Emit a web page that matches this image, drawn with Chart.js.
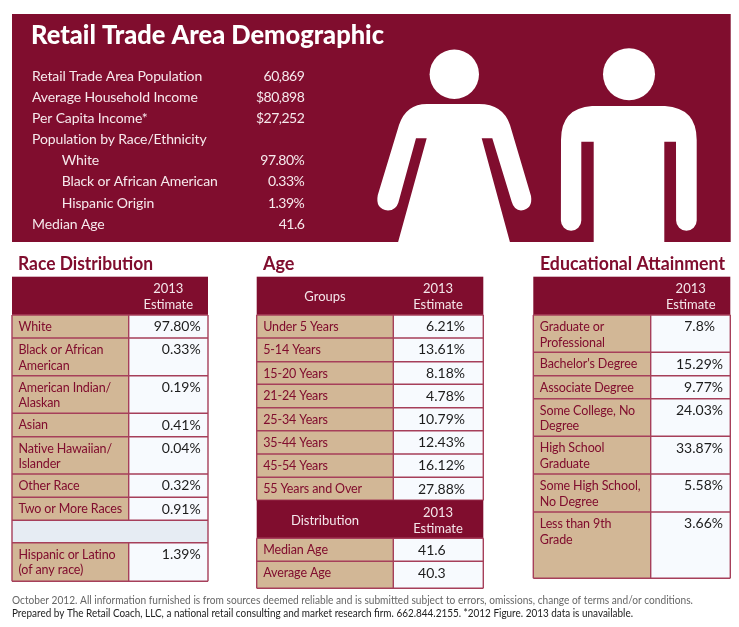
<!DOCTYPE html>
<html>
<head>
<meta charset="utf-8">
<title>Retail Trade Area Demographic</title>
<script src="https://cdn.jsdelivr.net/npm/chart.js@4"></script>
<style>
  html, body { margin: 0; padding: 0; background: #fff; }
  #sheet { position: absolute; left: 0; top: 0; }
</style>
</head>
<body>
<canvas id="sheet" width="739" height="627"></canvas>
<script>
const summaryLabels = ["Retail Trade Area Population", "Average Household Income", "Per Capita Income*", "Population by Race/Ethnicity", "White", "Black or African American", "Hispanic Origin", "Median Age"];
const summaryValues = ["60,869", "$80,898", "$27,252", "", "97.80%", "0.33%", "1.39%", "41.6"];
const raceLabels = ["White", "Black or African\nAmerican", "American Indian/\nAlaskan", "Asian", "Native Hawaiian/\nIslander", "Other Race", "Two or More Races", "", "Hispanic or Latino\n(of any race)"];
const raceValues = ["97.80%", "0.33%", "0.19%", "0.41%", "0.04%", "0.32%", "0.91%", "", "1.39%"];
const ageLabels = ["Under 5 Years", "5-14 Years", "15-20 Years", "21-24 Years", "25-34 Years", "35-44 Years", "45-54 Years", "55 Years and Over"];
const ageValues = ["6.21%", "13.61%", "8.18%", "4.78%", "10.79%", "12.43%", "16.12%", "27.88%"];
const distLabels = ["Median Age", "Average Age"];
const distValues = ["41.6", "40.3"];
const eduLabels = ["Graduate or\nProfessional", "Bachelor's Degree", "Associate Degree", "Some College, No\nDegree", "High School\nGraduate", "Some High School,\nNo Degree", "Less than 9th\nGrade"];
const eduValues = ["7.8%", "15.29%", "9.77%", "24.03%", "33.87%", "5.58%", "3.66%"];

// layout, in page pixels
const MAROON = "#800d2e";
const TAN = "#d2b796";
const FONT = "Lato, 'Open Sans', sans-serif";
const raceEdges = [315, 338, 375.7, 413.3, 436.7, 474, 497.3, 520.3, 542.7, 581.3];
const ageEdges = [315, 338, 361.7, 384.3, 407.7, 430.7, 454, 477.3, 500.3];
const distEdges = [538.3, 561.3, 588.3];
const eduEdges = [315, 352.3, 375.7, 398.7, 436.3, 474, 512, 578.3];

const sheetPlugin = {
  id: "sheet",
  afterDraw(chart) {
    const ctx = chart.ctx;
    const px = (v) => chart.scales.x.getPixelForValue(v);
    const py = (v) => chart.scales.y.getPixelForValue(v);

    const rect = (x0, y0, x1, y1, color) => {
      ctx.fillStyle = color;
      ctx.fillRect(px(x0), py(y0), px(x1) - px(x0), py(y1) - py(y0));
    };
    const text = (str, x, y, font, color, align, fit, spacing) => {
      ctx.font = font;
      ctx.fillStyle = color;
      ctx.textAlign = align || "left";
      ctx.textBaseline = "alphabetic";
      ctx.letterSpacing = (spacing || 0) + "px";
      if (fit) ctx.fillText(str, px(x), py(y), fit);
      else ctx.fillText(str, px(x), py(y));
      ctx.letterSpacing = "0px";
    };

    const header = (x0, x1, y0, y1, centre, left) => {
      rect(x0, y0, x1, y1, MAROON);
      text("2013", centre, y0 + 16.6, "13px " + FONT, "#f4e6ea", "center");
      text("Estimate", centre, y0 + 32.3, "13px " + FONT, "#f4e6ea", "center");
      if (left) text(left.str, left.x, y0 + 24.3, "13px " + FONT, "#f4e6ea", "center");
    };

    const rows = (x0, split, x1, edges, labels, values, right, rightOf) => {
      labels.forEach((label, i) => {
        const top = edges[i], bottom = edges[i + 1];
        if (label === "") {
          rect(x0, top, x1, bottom, "#e6ecf3");
        } else {
          rect(x0, top, split, bottom, TAN);
          rect(split, top, x1, bottom, "#f7fafe");
          label.split("\n").forEach((line, n) => {
            text(line, x0 + 6.5, top + 16 + n * 15.7, "12.5px " + FONT, MAROON, "left", 0, -0.12);
          });
          const r = rightOf && rightOf[values[i]] ? rightOf[values[i]] : right;
          text(values[i], r, top + 16.4, "14px " + FONT, "#1c1c1c", "right");
        }
      });
      // grid lines
      ctx.strokeStyle = "#a63f5a";
      ctx.lineWidth = 1.4;
      ctx.beginPath();
      edges.forEach((e) => {
        ctx.moveTo(px(x0), py(e));
        ctx.lineTo(px(x1), py(e));
      });
      labels.forEach((label, i) => {
        if (label === "") return;
        ctx.moveTo(px(split), py(edges[i]));
        ctx.lineTo(px(split), py(edges[i + 1]));
      });
      ctx.moveTo(px(x0), py(edges[0]));
      ctx.lineTo(px(x0), py(edges[edges.length - 1]));
      ctx.moveTo(px(x1), py(edges[0]));
      ctx.lineTo(px(x1), py(edges[edges.length - 1]));
      ctx.stroke();
    };

    // banner
    rect(12, 14, 730.7, 242, MAROON);
    text("Retail Trade Area Demographic", 31, 44, "900 26px " + FONT, "#ffffff", "left", 353);
    const summaryBase = [80.7, 101.7, 123, 144, 165, 186, 207.7, 228.7];
    summaryLabels.forEach((label, i) => {
      const indented = i >= 4 && i <= 6;
      text(label, indented ? 61.7 : 32, summaryBase[i], "14px " + FONT, "#f6e9ec", "left", 0, -0.12);
      if (summaryValues[i]) text(summaryValues[i], 304.3, summaryBase[i], "14px " + FONT, "#f6e9ec", "right", 0, -0.5);
    });

    // figures
    ctx.fillStyle = "#ffffff";
    ctx.beginPath();
    ctx.arc(px(454.3), py(74.3), 24.7, 0, Math.PI * 2);
    ctx.fill();
    ctx.beginPath();
    ctx.arc(px(629), py(74.3), 26, 0, Math.PI * 2);
    ctx.fill();

    // woman
    ctx.beginPath();
    ctx.moveTo(px(427), py(104));
    ctx.lineTo(px(479), py(104));
    ctx.quadraticCurveTo(px(503), py(104), px(510), py(125));
    ctx.lineTo(px(531), py(196));
    ctx.quadraticCurveTo(px(533), py(209), px(521), py(210.5));
    ctx.quadraticCurveTo(px(514), py(210), px(511.7), py(201.7));
    ctx.lineTo(px(492.3), py(138.3));
    ctx.lineTo(px(481.7), py(138.3));
    ctx.lineTo(px(511), py(246));
    ctx.lineTo(px(397), py(246));
    ctx.lineTo(px(426.7), py(138.3));
    ctx.lineTo(px(416), py(138.3));
    ctx.lineTo(px(398.3), py(202.7));
    ctx.quadraticCurveTo(px(396), py(210), px(388), py(210.5));
    ctx.quadraticCurveTo(px(375), py(209), px(377.8), py(195));
    ctx.lineTo(px(399), py(125));
    ctx.quadraticCurveTo(px(406), py(104), px(427), py(104));
    ctx.closePath();
    ctx.fill();

    // man
    ctx.beginPath();
    ctx.moveTo(px(592), py(106));
    ctx.lineTo(px(665), py(106));
    ctx.quadraticCurveTo(px(696.7), py(108), px(696.7), py(140));
    ctx.lineTo(px(696.7), py(220.5));
    ctx.arc(px(686.4), py(220.5), 10.3, 0, Math.PI);
    ctx.lineTo(px(676), py(141.7));
    ctx.lineTo(px(664.3), py(141.7));
    ctx.lineTo(px(664.3), py(246));
    ctx.lineTo(px(593.7), py(246));
    ctx.lineTo(px(593.7), py(141.7));
    ctx.lineTo(px(581.3), py(141.7));
    ctx.lineTo(px(581.3), py(220.5));
    ctx.arc(px(571.1), py(220.5), 10.2, 0, Math.PI);
    ctx.lineTo(px(561), py(140));
    ctx.quadraticCurveTo(px(561), py(108), px(592), py(106));
    ctx.closePath();
    ctx.fill();

    // section titles
    text("Race Distribution", 18, 270, "bold 18px " + FONT, MAROON, "left", 135);
    text("Age", 263, 270, "bold 18px " + FONT, MAROON);
    text("Educational Attainment", 540, 270, "bold 18px " + FONT, MAROON, "left", 185);

    // tables
    header(12, 208, 276.7, 315, 168.3);
    rows(12, 128.7, 208, raceEdges, raceLabels, raceValues, 200.7);

    header(256.7, 483.3, 276.7, 315, 438, { str: "Groups", x: 325 });
    rows(256.7, 393.3, 483.3, ageEdges, ageLabels, ageValues, 465);
    header(256.7, 483.3, 500.3, 538.3, 438, { str: "Distribution", x: 325 });
    rows(256.7, 393.3, 483.3, distEdges, distLabels, distValues, 445.7);

    header(533.3, 730.3, 276.7, 315, 690.7);
    rows(533.3, 650.7, 730.3, eduEdges, eduLabels, eduValues, 723, { "7.8%": 715 });

    // footnote
    text("October 2012. All information furnished is from sources deemed reliable and is submitted subject to errors, omissions, change of terms and/or conditions.", 12, 604, "11.5px " + FONT, "#666666", "left", 681);
    text("Prepared by The Retail Coach, LLC, a national retail consulting and market research firm. 662.844.2155. *2012 Figure. 2013 data is unavailable.", 12, 617.3, "11.5px " + FONT, "#222222", "left", 621);
  },
};

new Chart(document.getElementById("sheet"), {
  type: "scatter",
  data: { datasets: [] },
  options: {
    responsive: false,
    animation: false,
    devicePixelRatio: 1,
    layout: { padding: 0 },
    plugins: { legend: { display: false }, tooltip: { enabled: false } },
    scales: {
      x: { type: "linear", min: 0, max: 739, display: false },
      y: { type: "linear", min: 0, max: 627, reverse: true, display: false },
    },
  },
  plugins: [sheetPlugin],
});
</script>
</body>
</html>
